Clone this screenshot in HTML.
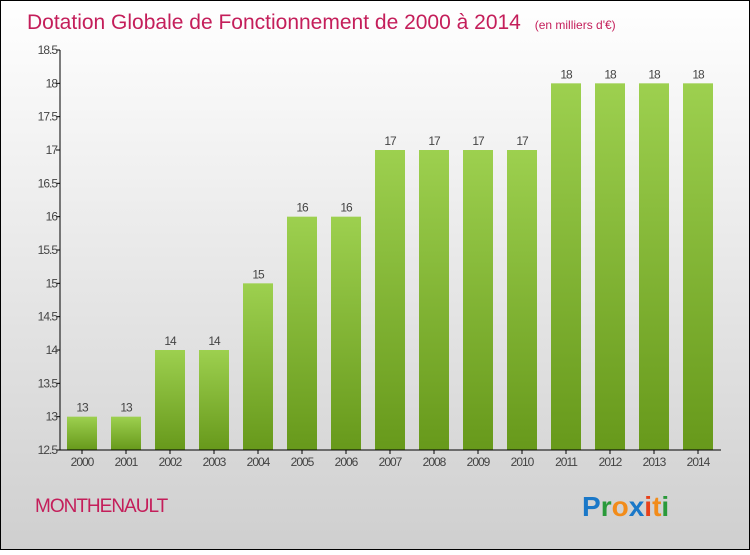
<!DOCTYPE html>
<html><head><meta charset="utf-8"><style>
body{margin:0}
svg text{font-family:"Liberation Sans",sans-serif}
</style></head><body>
<svg id="c" width="750" height="550" xmlns="http://www.w3.org/2000/svg">
<defs>
<linearGradient id="bg" x1="0" y1="0" x2="0" y2="1"><stop offset="0" stop-color="#ffffff"/><stop offset="1" stop-color="#cfcfcf"/></linearGradient>
<linearGradient id="bar" x1="0" y1="0" x2="0" y2="1"><stop offset="0" stop-color="#9dd04f"/><stop offset="1" stop-color="#67991b"/></linearGradient>
</defs>
<rect x="0.5" y="0.5" width="749" height="549" fill="url(#bg)" stroke="#000"/>
<text x="27" y="29" font-size="21" fill="#c41e5a">Dotation Globale de Fonctionnement de 2000 à 2014 <tspan font-size="12" dx="8">(en milliers d'€)</tspan></text>
<g id="plot"></g>
<text x="35" y="512" font-size="19" fill="#c41e5a" letter-spacing="-1">MONTHENAULT</text>
<g font-size="28" font-weight="bold" font-family="Liberation Sans,sans-serif">
<text x="582" y="516"><tspan fill="#1a78c8">P</tspan><tspan fill="#2a9a3a">r</tspan><tspan fill="#f28c1a">o</tspan><tspan fill="#1a78c8">x</tspan><tspan fill="#e8401a">i</tspan><tspan fill="#f28c1a">t</tspan><tspan fill="#2a9a3a">i</tspan></text>
</g>
</svg>
<script>
const years=["2000","2001","2002","2003","2004","2005","2006","2007","2008","2009","2010","2011","2012","2013","2014"];
const values=[13,13,14,14,15,16,16,17,17,17,17,18,18,18,18];
const yTicks=[12.5,13,13.5,14,14.5,15,15.5,16,16.5,17,17.5,18,18.5];
const NS="http://www.w3.org/2000/svg";
const g=document.getElementById('plot');
const y0=450,y1=50,vmin=12.5,vmax=18.5;
function ys(v){return y0-(v-vmin)/(vmax-vmin)*(y0-y1);}
function xs(i){return 82+i*44;}
function mk(t,a,txt){const e=document.createElementNS(NS,t);for(const k in a)e.setAttribute(k,a[k]);if(txt!==undefined)e.textContent=txt;g.appendChild(e);return e;}
yTicks.forEach(t=>{
  const l=mk('line',{x1:56,x2:60,y1:ys(t),y2:ys(t),stroke:'#000'});
  
  
  const tx=mk('text',{x:57,y:ys(t)+4,'text-anchor':'end','font-size':12,fill:'#444','letter-spacing':'-1'},String(t));
  
  
});
values.forEach((v,i)=>{
  const r=mk('rect',{x:xs(i)-15,y:ys(v),width:30,height:y0-ys(v),fill:'url(#bar)'});
  
  
  const lb=mk('text',{x:xs(i),y:ys(v)-5,'text-anchor':'middle','font-size':12,fill:'#444','letter-spacing':'-1'},String(v));
  
  
  const tk=mk('line',{x1:xs(i),x2:xs(i),y1:450,y2:454,stroke:'#000'});
  
  
  const xl=mk('text',{x:xs(i),y:466,'text-anchor':'middle','font-size':12,fill:'#444','letter-spacing':'-1'},years[i]);
  
  
});
const ya=mk('line',{x1:60,x2:60,y1:50,y2:450,stroke:'#000'});


const xa=mk('line',{x1:60,x2:721,y1:450,y2:450,stroke:'#000'});


</script>
</body></html>
